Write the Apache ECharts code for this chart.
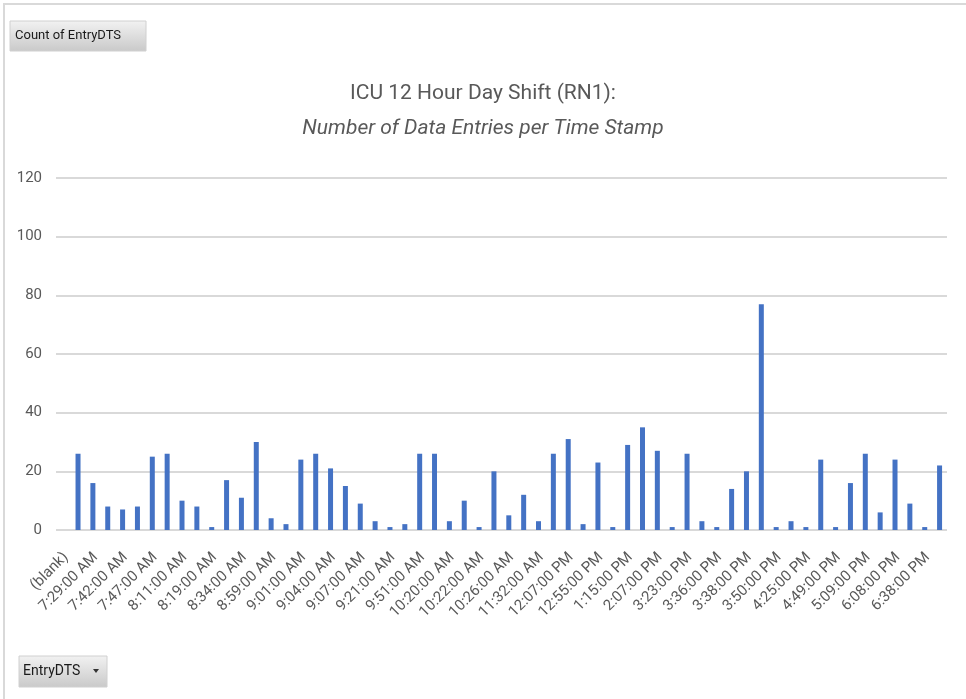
<!DOCTYPE html>
<html>
<head>
<meta charset="utf-8">
<script src="https://cdn.jsdelivr.net/npm/echarts@6/dist/echarts.min.js"></script>
<style>
  html, body { margin: 0; padding: 0; background: #fff; }
  #chart { width: 966px; height: 699px; }
</style>
</head>
<body>
<div id="chart"></div>
<script>
// EntryDTS categories (only every other one is labelled in the picture; the rest are estimated)
var timeStamps = [
  '(blank)', '7:20:00 AM', '7:29:00 AM', '7:35:00 AM', '7:42:00 AM', '7:45:00 AM',
  '7:47:00 AM', '8:00:00 AM', '8:11:00 AM', '8:15:00 AM', '8:19:00 AM', '8:30:00 AM',
  '8:34:00 AM', '8:45:00 AM', '8:59:00 AM', '9:00:00 AM', '9:01:00 AM', '9:02:00 AM',
  '9:04:00 AM', '9:05:00 AM', '9:07:00 AM', '9:15:00 AM', '9:21:00 AM', '9:30:00 AM',
  '9:51:00 AM', '10:00:00 AM', '10:20:00 AM', '10:21:00 AM', '10:22:00 AM', '10:24:00 AM',
  '10:26:00 AM', '11:00:00 AM', '11:32:00 AM', '11:45:00 AM', '12:07:00 PM', '12:30:00 PM',
  '12:55:00 PM', '1:00:00 PM', '1:15:00 PM', '1:30:00 PM', '2:07:00 PM', '2:30:00 PM',
  '3:23:00 PM', '3:30:00 PM', '3:36:00 PM', '3:37:00 PM', '3:38:00 PM', '3:45:00 PM',
  '3:50:00 PM', '4:00:00 PM', '4:25:00 PM', '4:30:00 PM', '4:49:00 PM', '5:00:00 PM',
  '5:09:00 PM', '5:30:00 PM', '6:08:00 PM', '6:30:00 PM', '6:38:00 PM'
];
// Count of EntryDTS
var entryCounts = [
  26, 16, 8, 7, 8, 25, 26, 10, 8, 1, 17, 11, 30, 4, 2, 24, 26, 21,
  15, 9, 3, 1, 2, 26, 26, 3, 10, 1, 20, 5, 12, 3, 26, 31, 2, 23, 1, 29, 35,
  27, 1, 26, 3, 1, 14, 20, 77,
  1, 3, 1, 24, 1, 16, 26, 6, 24, 9, 1, 22
];
var yTicks = { min: 0, max: 120, interval: 20 };

var titleText = 'ICU 12 Hour Day Shift (RN1):';
var subtitleText = 'Number of Data Entries per Time Stamp';

var fontFam = "Roboto, 'Noto Sans', sans-serif";
var textGray = '#595959';

function buttonFill() {
  return new echarts.graphic.LinearGradient(0, 0, 0, 1, [
    { offset: 0, color: '#f2f2f2' },
    { offset: 1, color: '#c9c9c9' }
  ]);
}

var myChart = echarts.init(document.getElementById('chart'));
var option = {
  backgroundColor: '#fff',
  animation: false,
  title: {
    text: titleText,
    subtext: subtitleText,
    left: 'center',
    top: 78,
    itemGap: 14,
    textStyle: { color: textGray, fontFamily: fontFam, fontSize: 21, fontWeight: 'normal' },
    subtextStyle: { color: textGray, fontFamily: fontFam, fontSize: 21, fontStyle: 'italic' }
  },
  grid: [
    // gridlines + y labels (Excel draws them a bit wider than the category band)
    { left: 56, right: 19, top: 178, bottom: 169 },
    // category band for the bars
    { left: 70.6, right: 19, top: 178, bottom: 169 }
  ],
  xAxis: [
    { type: 'value', gridIndex: 0, show: false, min: 0, max: 1 },
    {
      type: 'category',
      gridIndex: 1,
      data: timeStamps,
      axisLine: { show: false },
      axisTick: { show: false },
      axisLabel: {
        interval: 1,
        rotate: 45,
        margin: 13,
        padding: [0, 17, 0, 0],
        color: textGray,
        fontFamily: fontFam,
        fontSize: 15
      }
    }
  ],
  yAxis: [
    {
      type: 'value',
      gridIndex: 0,
      min: yTicks.min,
      max: yTicks.max,
      interval: yTicks.interval,
      axisLine: { show: false },
      axisTick: { show: false },
      splitLine: { lineStyle: { color: '#d9d9d9', width: 2 } },
      axisLabel: { color: textGray, fontFamily: fontFam, fontSize: 15, margin: 14 }
    },
    {
      type: 'value',
      gridIndex: 1,
      min: yTicks.min,
      max: yTicks.max,
      interval: yTicks.interval,
      show: false,
      splitLine: { show: false }
    }
  ],
  series: [{
    name: 'Count of EntryDTS',
    type: 'bar',
    xAxisIndex: 1,
    yAxisIndex: 1,
    data: entryCounts,
    barWidth: 5,
    itemStyle: { color: '#4472c4' }
  }],
  graphic: [
    {
      type: 'polyline',
      shape: { points: [[4, 699], [4, 4], [966, 4]] },
      style: { stroke: '#d9d9d9', lineWidth: 2, fill: null }
    },
    {
      type: 'group',
      x: 10, y: 21,
      children: [
        {
          type: 'rect',
          shape: { x: 0, y: 0, width: 136, height: 30 },
          style: { fill: buttonFill(), stroke: '#d0d0d0', lineWidth: 1 }
        },
        {
          type: 'text', x: 5, y: 15,
          style: { text: 'Count of EntryDTS', fill: '#1a1a1a', font: '13px ' + fontFam, verticalAlign: 'middle' }
        }
      ]
    },
    {
      type: 'group',
      x: 19, y: 656,
      children: [
        {
          type: 'rect',
          shape: { x: 0, y: 0, width: 88, height: 31 },
          style: { fill: buttonFill(), stroke: '#d0d0d0', lineWidth: 1 }
        },
        {
          type: 'text', x: 4, y: 15.5,
          style: { text: 'EntryDTS', fill: '#1a1a1a', font: '14px ' + fontFam, verticalAlign: 'middle' }
        },
        {
          type: 'polygon',
          shape: { points: [[74, 13], [80, 13], [77, 17]] },
          style: { fill: '#333' }
        }
      ]
    }
  ]
};
myChart.setOption(option);
</script>
</body>
</html>
